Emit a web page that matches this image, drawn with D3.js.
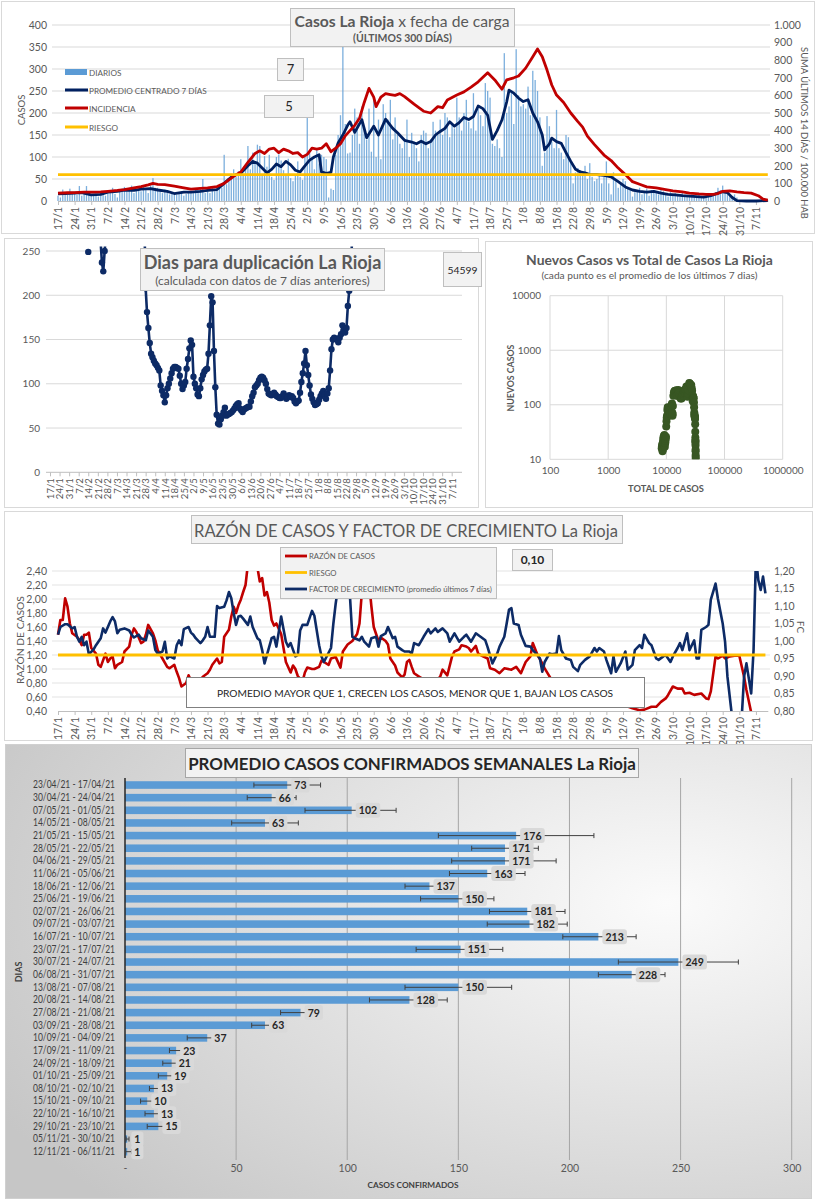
<!DOCTYPE html>
<html>
<head>
<meta charset="utf-8">
<script src="https://cdnjs.cloudflare.com/ajax/libs/d3/7.8.5/d3.min.js"></script>
<style>
  body { margin: 0; background: #fff; }
  svg { display: block; }
  svg text { font-family: Lato, "Open Sans", "DejaVu Sans", sans-serif; }
</style>
</head>
<body>
<svg id="chart" width="816" height="1200"></svg>
<script>
// ---------- datos ----------
var fechas = ["17/1","24/1","31/1","7/2","14/2","21/2","28/2","7/3","14/3","21/3","28/3","4/4","11/4","18/4","25/4","2/5","9/5","16/5","23/5","30/5","6/6","13/6","20/6","27/6","4/7","11/7","18/7","25/7","1/8","8/8","15/8","22/8","29/8","5/9","12/9","19/9","26/9","3/10","10/10","17/10","24/10","31/10","7/11"];

// casos diarios, 17/1 a 12/11 (una fila por semana)
var diarios = [
  12,8,26,18,14,28,16,
  20,14,34,12,18,34,15,
  12,16,14,10,18,15,12,
  24,20,30,16,8,22,28,
  32,22,26,35,18,24,28,
  22,32,26,18,35,52,30,
  30,22,18,26,24,15,20,
  18,14,20,22,12,16,22,
  22,18,26,20,28,50,18,
  24,18,30,22,28,34,30,
  105,38,48,62,72,55,68,
  95,62,80,125,72,110,88,
  128,125,58,102,78,105,55,
  48,100,106,92,70,58,96,
  52,45,60,90,55,48,100,
  190,110,95,72,120,85,105,
  100,95,8,28,25,105,150,
  195,350,175,108,110,150,210,
  190,130,215,160,140,210,112,
  230,100,185,95,220,200,185,
  230,140,190,150,130,120,140,
  185,100,155,135,120,90,150,
  160,155,120,140,180,160,150,
  185,150,200,190,145,175,165,
  235,190,160,200,230,180,165,
  245,160,210,195,170,268,250,
  235,130,125,140,120,100,336,
  200,215,250,175,345,240,215,
  220,210,260,195,296,275,250,
  190,80,110,193,170,135,120,
  207,120,110,95,150,145,90,
  40,65,75,70,60,80,50,
  86,55,45,50,60,40,55,
  90,40,15,65,45,30,40,
  50,45,30,25,10,20,25,
  30,15,20,28,12,25,20,
  18,15,25,22,18,10,20,
  12,18,15,10,22,14,12,
  10,15,12,8,14,10,12,
  10,15,12,18,20,30,25,
  35,20,25,15,10,15,8,
  2,1,0,1,2,1,0,
  1,0,1,2,1,1
];

// [dia, valor]
var promedio7 = [[0,16],[3,17],[7,18],[10,19],[14,14],[18,15],[21,20],[25,22],[28,25],[32,24],[35,27],[39,28],[42,25],[46,22],[49,17],[53,20],[56,20],[60,22],[63,24],[67,26],[70,40],[72,50],[74,58],[77,63],[80,80],[82,90],[84,86],[86,75],[88,64],[90,72],[92,84],[94,78],[96,90],[98,82],[100,70],[102,66],[104,80],[106,93],[108,100],[110,105],[111,66],[113,63],[115,65],[116,100],[118,132],[120,150],[122,172],[123,180],[125,156],[128,185],[130,144],[133,170],[135,150],[138,186],[141,165],[143,155],[146,138],[149,134],[151,130],[153,136],[155,130],[157,135],[159,150],[161,158],[163,165],[165,180],[167,170],[169,178],[171,190],[173,185],[175,192],[177,216],[179,210],[181,195],[183,140],[185,160],[187,184],[189,225],[190,252],[192,245],[194,234],[196,226],[198,230],[200,200],[202,180],[204,150],[205,116],[207,130],[208,143],[210,135],[212,131],[214,110],[216,90],[218,72],[220,66],[222,64],[224,60],[227,60],[230,58],[233,55],[236,44],[239,32],[242,25],[245,22],[248,20],[251,22],[254,18],[257,15],[260,14],[263,12],[266,11],[269,10],[272,9],[275,12],[278,18],[280,21],[282,19],[284,8],[286,1],[290,0],[294,0],[299,1]];

var incidencia = [[0,45],[4,47],[7,48],[11,50],[14,50],[18,52],[21,55],[25,60],[28,65],[32,75],[35,82],[38,92],[40,100],[42,95],[45,93],[49,85],[53,75],[56,68],[60,72],[63,75],[67,82],[70,100],[74,140],[77,165],[80,220],[83,270],[85,285],[87,270],[89,295],[91,300],[93,275],[95,295],[97,285],[99,270],[101,275],[103,250],[105,265],[107,300],[109,295],[111,300],[113,325],[115,280],[117,300],[119,325],[121,370],[123,400],[125,430],[127,470],[129,560],[131,640],[133,590],[134,536],[136,590],[138,610],[140,605],[142,600],[144,610],[146,593],[150,550],[154,510],[157,500],[160,536],[162,530],[164,574],[168,602],[171,620],[174,647],[177,677],[181,729],[184,688],[187,635],[189,688],[192,700],[194,710],[197,755],[200,820],[202,864],[204,820],[206,744],[208,659],[210,602],[213,560],[216,500],[219,451],[221,420],[223,369],[226,320],[230,261],[233,230],[236,187],[239,150],[242,110],[245,95],[248,80],[252,75],[256,65],[259,58],[263,52],[266,45],[270,40],[273,38],[276,38],[278,42],[280,55],[283,58],[286,52],[289,48],[292,45],[295,30],[297,10],[299,5]];

var riesgoCasos = 60;        // eje izquierdo
var riesgoIncidencia = 150;  // eje derecho

// dias para duplicacion [dia, valor] (null = sin dato)
var duplicacion = [[27,null],[28,249],[29,null],[36,null],[37,262],[38,237],[39,227],[40,250],[41,270],[42,null],
  [68,null],[69,290],[70,208],[71,181],[72,163],[73,146],[74,134],[75,130],[76,126],[77,123],[78,121],[79,118],[80,115],[81,98],[82,92],[83,87],[84,79],[85,87],[86,95],[87,100],[88,106],[89,112],[90,117],[91,119],[92,119],[93,118],[94,117],[95,109],[96,100],[97,94],[98,98],[99,102],[100,117],[101,128],[102,140],[103,149],[104,144],[105,108],[106,100],[107,95],[108,88],[109,86],[110,95],[111,105],[112,110],[113,114],[114,116],[115,117],[116,134],[117,166],[118,199],[119,192],[120,137],[121,96],[122,65],[123,55],[124,54],[125,60],[126,64],[127,68],[128,73],[129,64],[130,65],[131,66],[132,67],[133,68],[134,70],[135,72],[136,75],[137,77],[138,78],[139,72],[140,70],[141,68],[142,71],[143,72],[144,73],[145,74],[146,74],[147,80],[148,86],[149,90],[150,96],[151,98],[152,100],[153,104],[154,107],[155,108],[156,107],[157,104],[158,100],[159,94],[160,89],[161,88],[162,87],[163,88],[164,90],[165,88],[166,86],[167,85],[168,84],[169,84],[170,86],[171,89],[172,86],[173,83],[174,85],[175,87],[176,85],[177,86],[178,84],[179,80],[180,78],[181,80],[182,81],[183,90],[184,102],[185,112],[186,123],[187,137],[188,121],[189,110],[190,98],[191,88],[192,83],[193,79],[194,76],[195,77],[196,78],[197,82],[198,86],[199,89],[200,92],[201,88],[202,83],[203,89],[204,95],[205,115],[206,139],[207,150],[208,152],[209,151],[210,150],[211,147],[212,152],[213,156],[214,166],[215,160],[216,158],[217,163],[218,188],[219,205],[220,222],[221,260],[222,300]];
var ultimoDuplicacion = "54599";

// [total de casos, nuevos casos (promedio 7 dias)]
var nuevosVsTotal = [[8320,16],[8400,17],[8470,18],[8550,19],[8600,14],[8660,15],[8720,20],[8800,22],[8900,25],[9000,24],[9110,27],[9250,28],[9300,25],[9390,22],[9420,17],[9500,20],[9580,20],[9660,22],[9740,24],[9850,26],
  [9950,40],[10050,50],[10150,58],[10250,63],[10400,80],[10550,90],[10700,86],[10850,75],[10950,64],[11100,72],[11250,84],[11400,78],[11550,90],[11650,82],[11800,70],[11900,64],[12000,66],[12150,93],[12350,100],[12500,105],[12600,72],[12750,63],[12850,68],[12950,95],
  [13200,146],[13500,170],[13850,178],[14150,180],[14400,158],[14650,165],[14950,185],[15200,160],[15500,145],[15800,165],[16100,186],[16400,172],[16700,165],[17000,150],[17300,140],[17600,130],[17900,136],[18200,130],[18500,135],[18800,150],[19100,158],[19400,165],[19800,180],[20100,170],[20500,178],[20900,190],[21300,185],[21700,192],[22100,216],[22500,210],[22900,195],[23200,140],[23500,160],[23800,184],[24300,225],[24800,252],[25300,245],[25800,234],[26300,226],[26800,230],[27300,200],[27700,180],[28100,150],[28400,116],[28700,130],[28900,143],[29200,135],[29500,131],[29800,110],[30000,90],[30200,72],[30350,66],[30500,64],[30650,60],[30850,60],[31000,58],[31150,55],[31300,44],[31400,32],[31500,25],[31560,22],[31620,20],[31690,22],[31750,18],[31800,15],[31850,14],[31890,12],[31930,11],[31970,10]];

// razon de casos [dia, valor] (eje izq.) y factor de crecimiento [dia, valor] (eje der.)
var razon = [[0,1.49],[1,1.70],[2,1.70],[3,2.01],[4,1.89],[5,1.65],[6,1.51],[8,1.46],[9,1.41],[10,1.34],[11,1.49],[12,1.49],[13,1.52],[14,1.30],[16,1.22],[17,1.06],[18,1.03],[20,1.22],[21,1.10],[22,1.15],[23,1.18],[24,1.01],[25,1.06],[27,1.10],[28,1.25],[30,1.32],[31,1.49],[32,1.58],[33,1.53],[35,1.37],[36,1.39],[37,1.49],[38,1.63],[40,1.51],[41,1.41],[42,1.27],[44,1.15],[46,1.03],[47,1.01],[49,1.06],[50,0.96],[51,0.87],[52,0.75],[54,0.80],[55,0.91],[56,0.84],[58,0.80],[60,0.84],[61,0.89],[63,0.94],[64,0.99],[65,1.06],[67,1.15],[68,1.08],[69,1.10],[70,1.46],[72,1.56],[73,1.75],[74,1.89],[75,1.80],[76,1.91],[77,1.99],[78,2.10],[79,2.20],[80,2.50],[82,2.90],[84,2.45],[85,2.25],[86,2.30],[87,2.05],[88,2.10],[89,1.95],[90,1.70],[91,1.62],[92,1.65],[94,1.50],[95,1.30],[96,1.10],[98,0.95],[99,1.05],[100,1.00],[101,0.90],[103,0.82],[104,0.95],[105,1.02],[107,1.00],[108,1.00],[110,1.03],[111,1.12],[112,1.10],[114,1.06],[115,1.15],[117,1.17],[119,1.02],[120,1.25],[122,1.35],[124,1.40],[125,1.45],[126,1.50],[127,1.65],[128,2.10],[129,2.45],[130,2.70],[131,2.25],[132,1.90],[133,1.60],[135,1.40],[136,1.45],[138,1.40],[139,1.35],[140,1.15],[142,1.05],[143,0.95],[145,0.88],[146,0.92],[147,1.10],[148,1.13],[149,1.03],[150,0.94],[153,0.87],[156,0.84],[159,0.82],[161,0.89],[162,0.99],[164,0.91],[166,1.18],[167,1.25],[169,1.28],[170,1.34],[172,1.32],[173,1.30],[174,1.25],[176,1.33],[177,1.22],[179,1.18],[181,1.15],[182,1.01],[184,0.99],[186,0.94],[188,1.01],[191,0.99],[193,1.03],[195,0.94],[197,1.10],[199,1.18],[200,1.37],[202,1.20],[204,1.08],[205,1.01],[208,0.84],[211,0.75],[214,0.60],[216,0.51],[219,0.56],[221,0.55],[223,0.56],[226,0.52],[229,0.52],[233,0.50],[238,0.49],[242,0.44],[245,0.41],[247,0.42],[250,0.46],[252,0.46],[254,0.53],[256,0.58],[257,0.63],[259,0.75],[261,0.72],[263,0.72],[264,0.65],[266,0.66],[268,0.63],[271,0.65],[273,0.58],[274,0.57],[275,0.68],[277,1.18],[278,1.15],[280,1.19],[281,1.15],[283,1.18],[285,1.19],[287,1.19],[289,0.89],[290,0.70],[292,0.38],[294,0.20],[299,0.10]];

var factorCrecimiento = [[0,1.018],[1,1.040],[3,1.048],[4,1.048],[6,1.036],[7,1.040],[8,1.012],[9,0.998],[10,1.012],[11,0.988],[12,0.998],[13,0.962],[15,0.976],[16,0.988],[18,1.008],[19,1.036],[20,1.024],[22,1.056],[23,1.068],[24,1.056],[25,1.022],[26,1.032],[28,1.036],[30,1.030],[31,1.018],[32,1.010],[34,1.018],[35,1.008],[37,1.002],[38,1.030],[40,1.012],[41,0.974],[42,0.964],[44,0.970],[45,0.998],[46,0.950],[47,0.956],[49,0.950],[50,0.988],[51,1.002],[52,0.988],[53,1.034],[55,1.040],[56,1.024],[57,1.018],[58,1.008],[60,0.994],[61,1.002],[62,1.012],[63,1.040],[64,1.012],[66,1.012],[67,1.100],[68,1.094],[70,1.098],[71,1.116],[72,1.140],[73,1.122],[74,1.080],[75,1.046],[76,1.070],[77,1.072],[78,1.064],[80,1.046],[81,1.070],[82,1.040],[84,1.008],[85,1.002],[86,0.974],[87,0.936],[89,0.984],[90,1.008],[91,1.012],[92,0.984],[93,1.026],[94,1.070],[96,0.998],[97,0.984],[98,0.994],[100,0.956],[101,0.960],[102,1.030],[103,1.046],[105,1.046],[107,1.086],[108,1.072],[110,0.988],[111,0.956],[112,0.940],[115,0.980],[116,1.050],[117,1.108],[118,1.156],[119,1.240],[120,1.300],[121,1.260],[122,1.200],[123,1.126],[124,1.012],[125,1.008],[127,1.002],[128,1.012],[129,0.998],[131,0.984],[132,1.008],[134,1.012],[135,0.984],[136,1.014],[138,1.022],[139,1.040],[141,1.008],[142,1.012],[143,0.984],[145,0.974],[146,0.970],[148,0.970],[149,0.964],[150,0.994],[152,0.988],[154,1.012],[156,1.034],[157,1.022],[159,1.036],[160,1.026],[162,1.036],[164,1.022],[165,0.998],[167,1.022],[169,0.998],[171,1.012],[172,1.018],[174,0.998],[176,1.022],[178,1.012],[180,1.002],[181,0.982],[183,0.936],[185,0.964],[186,0.984],[188,1.012],[189,1.050],[190,1.090],[191,1.094],[192,1.050],[194,1.046],[195,1.018],[197,0.986],[199,0.984],[200,0.974],[202,0.960],[203,0.950],[204,0.912],[205,0.940],[207,0.964],[208,0.962],[210,0.964],[211,1.014],[212,0.974],[214,0.950],[216,0.946],[217,0.926],[219,0.914],[220,0.932],[222,0.946],[224,0.956],[226,0.980],[227,0.970],[228,0.980],[230,0.970],[231,0.946],[233,0.908],[234,0.956],[235,0.912],[237,0.936],[239,0.970],[240,0.918],[242,0.932],[243,0.974],[245,0.988],[246,0.980],[247,1.018],[249,0.994],[250,0.988],[252,0.950],[253,0.946],[255,0.956],[256,0.960],[258,0.940],[259,0.956],[261,0.980],[262,0.994],[263,0.974],[265,1.022],[266,0.974],[268,1.002],[269,0.950],[270,0.950],[271,1.032],[273,1.040],[274,1.046],[275,1.118],[277,1.164],[278,1.120],[280,1.050],[281,0.998],[282,0.898],[284,0.780],[286,0.760],[288,0.780],[289,0.898],[290,0.936],[292,0.850],[293,0.974],[294,1.240],[295,1.174],[296,1.146],[297,1.184],[298,1.136]];
var riesgoRazon = 1.2;
var ultimaRazon = "0,10";

// promedio semanal de casos confirmados con barras de error
var semanas = ["23/04/21 - 17/04/21","30/04/21 - 24/04/21","07/05/21 - 01/05/21","14/05/21 - 08/05/21","21/05/21 - 15/05/21","28/05/21 - 22/05/21","04/06/21 - 29/05/21","11/06/21 - 05/06/21","18/06/21 - 12/06/21","25/06/21 - 19/06/21","02/07/21 - 26/06/21","09/07/21 - 03/07/21","16/07/21 - 10/07/21","23/07/21 - 17/07/21","30/07/21 - 24/07/21","06/08/21 - 31/07/21","13/08/21 - 07/08/21","20/08/21 - 14/08/21","27/08/21 - 21/08/21","03/09/21 - 28/08/21","10/09/21 - 04/09/21","17/09/21 - 11/09/21","24/09/21 - 18/09/21","01/10/21 - 25/09/21","08/10/21 - 02/10/21","15/10/21 - 09/10/21","22/10/21 - 16/10/21","29/10/21 - 23/10/21","05/11/21 - 30/10/21","12/11/21 - 06/11/21"];
var promSemanal = [73,66,102,63,176,171,171,163,137,150,181,182,213,151,249,228,150,128,79,63,37,23,21,19,13,10,13,15,1,1];
var errBajo = [58,55,81,48,141,156,147,146,126,133,164,163,197,131,222,213,126,110,70,57,28,20,17,15,11,7,9,10,0.5,0.3];
var errAlto = [88,77,122,78,211,186,194,180,141,166,198,199,230,170,276,243,174,145,82,66,40,26,24,22,16,13,16,19,1.8,3];

// ---------- utilidades ----------
var svg = d3.select("#chart");
var GRIS = "#595959";
var AZUL = "#0d2b66", ROJO = "#c00000", ORO = "#ffc000";
var defs = svg.append("defs");

function clip(id, x, y, w, h) {
  defs.append("clipPath").attr("id", id).append("rect")
    .attr("x", x).attr("y", y).attr("width", w).attr("height", h);
}
function caja(g, x, y, w, h, fill, stroke) {
  return g.append("rect").attr("x", x).attr("y", y).attr("width", w).attr("height", h)
    .attr("fill", fill).attr("stroke", stroke || "none");
}
function ajustar(t, ancho) {
  var s = +t.attr("font-size");
  var len = t.node().getComputedTextLength();
  t.attr("font-size", s * ancho / len);
  return t;
}
// tamaño de letra para que un texto mida 'ancho' (se mide y se borra)
function tamPara(s, size, ancho, weight) {
  var t = svg.append("text").attr("font-size", size).attr("font-weight", weight || "normal").text(s);
  var len = t.node().getComputedTextLength();
  t.remove();
  return size * ancho / len;
}
function texto(g, x, y, s, size, o) {
  o = o || {};
  var t = g.append("text").attr("x", x).attr("y", y).attr("font-size", size)
    .attr("fill", o.color || GRIS).attr("font-weight", o.weight || "normal")
    .attr("text-anchor", o.anchor || "middle").text(s);
  if (o.ancho) ajustar(t, o.ancho);
  if (o.rot) t.attr("transform", "rotate(" + o.rot + "," + x + "," + y + ")");
  return t;
}
function estiloEje(a, size, color) {
  a.selectAll("text").attr("fill", color || GRIS).attr("font-size", size);
}
function ejeFechas(g, escala, y, size) {
  var a = g.append("g").attr("transform", "translate(0," + y + ")")
    .call(d3.axisBottom(escala)
      .tickValues(fechas.map(function (f, i) { return i * 7; }))
      .tickFormat(function (d, i) { return fechas[i]; })
      .tickSize(4).tickSizeOuter(0));
  a.select(".domain").attr("stroke", "#bfbfbf");
  a.selectAll(".tick line").attr("stroke", "#bfbfbf");
  a.selectAll("text").attr("transform", "rotate(-90)").attr("x", -6).attr("y", 0)
    .attr("dy", "0.35em").attr("text-anchor", "end").attr("fill", GRIS).attr("font-size", size);
  return a;
}
function coma(d) { return d.toFixed(2).replace(".", ","); }

// ---------- 1. casos x fecha de carga ----------
var g1 = svg.append("g");
caja(g1, 1.5, 1.5, 813, 232, "#fff", "#d9d9d9");
var x1 = d3.scaleLinear().domain([0, 299]).range([58, 767.8]);
var y1 = d3.scaleLinear().domain([0, 400]).range([201, 25]);
var y1r = d3.scaleLinear().domain([0, 1000]).range([201, 25]);

g1.append("g").selectAll("line").data(d3.range(50, 401, 50)).join("line")
  .attr("x1", 52).attr("x2", 770).attr("y1", function (d) { return y1(d); }).attr("y2", function (d) { return y1(d); })
  .attr("stroke", "#d9d9d9");

var aL1 = g1.append("g").attr("transform", "translate(52,0)")
  .call(d3.axisLeft(y1).tickValues(d3.range(0, 401, 50)).tickSize(0).tickPadding(5));
aL1.select(".domain").remove();
estiloEje(aL1, 10.5);
var aR1 = g1.append("g").attr("transform", "translate(770,0)")
  .call(d3.axisRight(y1r).tickValues(d3.range(0, 1001, 100)).tickSize(0).tickPadding(4)
    .tickFormat(function (d) { return d3.format(",")(d).replace(",", "."); }));
aR1.select(".domain").remove();
estiloEje(aR1, 10.5);

g1.append("g").selectAll("rect").data(diarios).join("rect")
  .attr("x", function (d, i) { return x1(i) - 0.65; }).attr("width", 1.3)
  .attr("y", function (d) { return y1(d); }).attr("height", function (d) { return y1(0) - y1(d); })
  .attr("fill", "#5b9bd5").attr("opacity", 0.8);

ejeFechas(g1, x1, 201, 10.5);

g1.append("path").datum(promedio7)
  .attr("d", d3.line().x(function (d) { return x1(d[0]); }).y(function (d) { return y1(d[1]); }))
  .attr("fill", "none").attr("stroke", "#002060").attr("stroke-width", 2.8).attr("stroke-linejoin", "round");
g1.append("path").datum(incidencia)
  .attr("d", d3.line().x(function (d) { return x1(d[0]); }).y(function (d) { return y1r(d[1]); }))
  .attr("fill", "none").attr("stroke", ROJO).attr("stroke-width", 2.8).attr("stroke-linejoin", "round");
g1.append("line").attr("x1", x1(0)).attr("x2", x1(299))
  .attr("y1", y1(riesgoCasos)).attr("y2", y1(riesgoCasos)).attr("stroke", ORO).attr("stroke-width", 2.8);

texto(g1, 25, 110, "CASOS", 9.5, { rot: -90 });
texto(g1, 801, 133, "SUMA  ÚLTIMOS 14 DÍAS / 100.000 HAB", 10.5, { rot: 90, ancho: 172 });

// leyenda
var ley1 = [["DIARIOS", "barra", "#5b9bd5", 72], ["PROMEDIO CENTRADO 7 DÍAS", "linea", "#002060", 90],
            ["INCIDENCIA", "linea", ROJO, 108], ["RIESGO", "linea", ORO, 127]];
var tamLey = tamPara(ley1[1][0], 10, 118);
ley1.forEach(function (l) {
  if (l[1] === "barra") caja(g1, 65, l[3] - 3, 22, 6, l[2]);
  else g1.append("line").attr("x1", 65).attr("x2", 88).attr("y1", l[3]).attr("y2", l[3])
    .attr("stroke", l[2]).attr("stroke-width", 3);
  texto(g1, 89, l[3] + 3.5, l[0], tamLey, { anchor: "start" });
});

caja(g1, 290.5, 8.5, 224, 38, "#f2f2f2", "#bfbfbf");
var tt1 = g1.append("text").attr("x", 402).attr("y", 27).attr("text-anchor", "middle")
  .attr("font-size", 18).attr("fill", GRIS);
tt1.append("tspan").attr("font-weight", "bold").text("Casos  La Rioja");
tt1.append("tspan").text(" x  fecha  de  carga");
ajustar(tt1, 215);
texto(g1, 402.5, 42, "(ÚLTIMOS 300 DÍAS)", 11, { ancho: 99, weight: "bold" });

caja(g1, 277.5, 58.5, 26, 22, "#f2f2f2", "#bfbfbf");
texto(g1, 290.5, 74, "7", 13, { color: "#262626" });
caja(g1, 264.5, 95.5, 49, 22, "#f2f2f2", "#bfbfbf");
texto(g1, 289, 111, "5", 13, { color: "#262626" });

// ---------- 2. dias para duplicacion ----------
var g2 = svg.append("g");
caja(g2, 4.5, 238.5, 474, 269, "#fff", "#d9d9d9");
var x2 = d3.scaleLinear().domain([0, 294]).range([50, 451.7]);
var y2 = d3.scaleLinear().domain([0, 250]).range([472.3, 251]);
g2.append("g").selectAll("line").data(d3.range(50, 251, 50)).join("line")
  .attr("x1", 46).attr("x2", 462).attr("y1", function (d) { return y2(d); }).attr("y2", function (d) { return y2(d); })
  .attr("stroke", "#d9d9d9");
var aL2 = g2.append("g").attr("transform", "translate(46,0)")
  .call(d3.axisLeft(y2).tickValues(d3.range(0, 251, 50)).tickSize(0).tickPadding(6));
aL2.select(".domain").remove();
estiloEje(aL2, 10);
var ax2 = ejeFechas(g2, x2, 472.3, 9.5);
ax2.select(".domain").attr("d", "M46,0H462");

clip("c2", 44, 246.5, 420, 230);
var cuerpo2 = g2.append("g").attr("clip-path", "url(#c2)");
cuerpo2.append("path").datum(duplicacion)
  .attr("d", d3.line().defined(function (d) { return d[1] !== null; })
    .x(function (d) { return x2(d[0]); }).y(function (d) { return y2(d[1]); }))
  .attr("fill", "none").attr("stroke", AZUL).attr("stroke-width", 2.6).attr("stroke-linejoin", "round");
cuerpo2.selectAll("circle").data(duplicacion.filter(function (d) { return d[1] !== null && d[1] <= 252; }))
  .join("circle").attr("cx", function (d) { return x2(d[0]); }).attr("cy", function (d) { return y2(d[1]); })
  .attr("r", 3.2).attr("fill", AZUL);

caja(g2, 140.5, 248.5, 244, 42, "#f2f2f2", "#bfbfbf");
texto(g2, 262.5, 268.5, "Dias para duplicación La Rioja", 17, { weight: "bold", ancho: 238 });
texto(g2, 262.5, 285, "(calculada con datos de 7 días anteriores)", 12, { ancho: 215 });
caja(g2, 443.5, 252.5, 38, 34, "#f2f2f2", "#bfbfbf");
texto(g2, 462.5, 274, ultimoDuplicacion, 11, { color: "#262626", ancho: 30 });

// ---------- 3. nuevos casos vs total ----------
var g3 = svg.append("g");
caja(g3, 485.5, 241.5, 327, 266, "#fff", "#d9d9d9");
var x3 = d3.scaleLog().domain([100, 1e6]).range([550, 782.7]);
var y3 = d3.scaleLog().domain([10, 1e4]).range([459.3, 295.7]);
var decX = [100, 1000, 10000, 100000, 1000000], decY = [10, 100, 1000, 10000];
g3.append("g").selectAll("line").data(decX).join("line")
  .attr("x1", function (d) { return x3(d); }).attr("x2", function (d) { return x3(d); })
  .attr("y1", y3(1e4)).attr("y2", y3(10)).attr("stroke", "#d9d9d9");
g3.append("g").selectAll("line").data(decY).join("line")
  .attr("x1", x3(100)).attr("x2", x3(1e6))
  .attr("y1", function (d) { return y3(d); }).attr("y2", function (d) { return y3(d); }).attr("stroke", "#d9d9d9");
var aX3 = g3.append("g").attr("transform", "translate(0," + y3(10) + ")")
  .call(d3.axisBottom(x3).tickValues(decX).tickFormat(d3.format("d")).tickSize(0).tickPadding(8));
aX3.select(".domain").remove();
estiloEje(aX3, 10);
var aY3 = g3.append("g").attr("transform", "translate(" + x3(100) + ",0)")
  .call(d3.axisLeft(y3).tickValues(decY).tickFormat(d3.format("d")).tickSize(0).tickPadding(9));
aY3.select(".domain").remove();
estiloEje(aY3, 10);

clip("c3", x3(100), y3(1e4), x3(1e6) - x3(100), y3(10) - y3(1e4));
g3.append("g").attr("clip-path", "url(#c3)").selectAll("circle").data(nuevosVsTotal).join("circle")
  .attr("cx", function (d) { return x3(d[0]); }).attr("cy", function (d) { return y3(d[1]); })
  .attr("r", 4).attr("fill", "#385723");

texto(g3, 649.5, 264.5, "Nuevos Casos vs Total de Casos La Rioja", 14, { weight: "bold", ancho: 247 });
texto(g3, 649.5, 279, "(cada punto es el promedio de los últimos 7 dias)", 11, { ancho: 216 });
texto(g3, 514, 378, "NUEVOS  CASOS", 11, { weight: "bold", rot: -90, ancho: 67 });
texto(g3, 666, 492, "TOTAL DE CASOS", 11, { weight: "bold", ancho: 76 });

// ---------- 4. razon de casos y factor de crecimiento ----------
var g4 = svg.append("g");
caja(g4, 4.5, 511.5, 808, 229, "#fff", "#d9d9d9");
var y4 = d3.scaleLinear().domain([0.4, 2.4]).range([711, 571]);
var y4r = d3.scaleLinear().domain([0.8, 1.2]).range([711, 571]);
g4.append("g").selectAll("line").data(d3.range(0.6, 2.41, 0.2)).join("line")
  .attr("x1", 52).attr("x2", 770).attr("y1", function (d) { return y4(d); }).attr("y2", function (d) { return y4(d); })
  .attr("stroke", "#e3e3e3");
var aL4 = g4.append("g").attr("transform", "translate(52,0)")
  .call(d3.axisLeft(y4).tickValues(d3.range(0.4, 2.41, 0.2)).tickSize(0).tickPadding(5).tickFormat(coma));
aL4.select(".domain").remove();
estiloEje(aL4, 10.5);
var aR4 = g4.append("g").attr("transform", "translate(770,0)")
  .call(d3.axisRight(y4r).tickValues(d3.range(0.8, 1.201, 0.05)).tickSize(0).tickPadding(4).tickFormat(coma));
aR4.select(".domain").remove();
estiloEje(aR4, 10.5);
ejeFechas(g4, x1, 711, 10.5);

clip("c4", 52, 571, 718, 140);
var cuerpo4 = g4.append("g").attr("clip-path", "url(#c4)");
cuerpo4.append("path").datum(razon)
  .attr("d", d3.line().x(function (d) { return x1(d[0]); }).y(function (d) { return y4(d[1]); }))
  .attr("fill", "none").attr("stroke", ROJO).attr("stroke-width", 2.6).attr("stroke-linejoin", "round");
cuerpo4.append("path").datum(factorCrecimiento)
  .attr("d", d3.line().x(function (d) { return x1(d[0]); }).y(function (d) { return y4r(d[1]); }))
  .attr("fill", "none").attr("stroke", AZUL).attr("stroke-width", 2.6).attr("stroke-linejoin", "round");
g4.append("line").attr("x1", x1(0)).attr("x2", x1(298))
  .attr("y1", y4(riesgoRazon)).attr("y2", y4(riesgoRazon)).attr("stroke", ORO).attr("stroke-width", 2.8);

texto(g4, 24, 640, "RAZÓN  DE CASOS", 10.5, { rot: -90, ancho: 88 });
texto(g4, 797, 627, "FC", 10, { rot: 90 });

caja(g4, 191.5, 515.5, 431, 28, "#f2f2f2", "#bfbfbf");
texto(g4, 406, 536.5, "RAZÓN DE CASOS Y FACTOR DE CRECIMIENTO La Rioja", 20, { ancho: 424 });

caja(g4, 280.5, 547.5, 216, 51, "#f2f2f2", "#bfbfbf");
var ley4 = [["RAZÓN DE CASOS", ROJO, 556], ["RIESGO", ORO, 572.5], ["FACTOR DE CRECIMIENTO (promedio últimos 7 días)", AZUL, 589]];
var tamLey4 = tamPara(ley4[2][0], 8, 183);
ley4.forEach(function (l) {
  g4.append("line").attr("x1", 285).attr("x2", 307).attr("y1", l[2]).attr("y2", l[2])
    .attr("stroke", l[1]).attr("stroke-width", 2.8);
  texto(g4, 309, l[2] + 3, l[0], tamLey4, { anchor: "start" });
});
caja(g4, 512.5, 549.5, 40, 21, "#f2f2f2", "#bfbfbf");
texto(g4, 532.5, 564, ultimaRazon, 12, { color: "#262626", weight: "bold" });

caja(g4, 186.5, 677.5, 458, 30, "#fff", "#808080");
texto(g4, 415, 697, "PROMEDIO MAYOR QUE 1, CRECEN LOS CASOS, MENOR QUE 1, BAJAN LOS CASOS", 12.5,
  { color: "#262626", ancho: 396 });

// ---------- 5. promedio casos confirmados semanales ----------
var g5 = svg.append("g");
var grad = defs.append("radialGradient").attr("id", "fondo5").attr("cx", "82%").attr("cy", "35%").attr("r", "95%");
grad.append("stop").attr("offset", "0%").attr("stop-color", "#fbfbfb");
grad.append("stop").attr("offset", "100%").attr("stop-color", "#c6c6c6");
caja(g5, 5.5, 744.5, 806, 454, "url(#fondo5)", "#d0d0d0");

var x5 = d3.scaleLinear().domain([0, 300]).range([125, 791.7]);
var y5 = d3.scaleBand().domain(semanas).range([778.7, 1158]).paddingInner(0.4).paddingOuter(0.2);

g5.append("g").selectAll("line").data(d3.range(50, 301, 50)).join("line")
  .attr("x1", function (d) { return x5(d); }).attr("x2", function (d) { return x5(d); })
  .attr("y1", 778).attr("y2", 1160).attr("stroke", "#a6a6a6");
var aX5 = g5.append("g").attr("transform", "translate(0,1160)")
  .call(d3.axisBottom(x5).tickValues(d3.range(0, 301, 50)).tickSize(0).tickPadding(5)
    .tickFormat(function (d) { return d === 0 ? "-" : d; }));
aX5.select(".domain").remove();
estiloEje(aX5, 10.5);
var aY5 = g5.append("g").attr("transform", "translate(125,0)")
  .call(d3.axisLeft(y5).tickSize(0).tickPadding(10));
aY5.select(".domain").remove();
estiloEje(aY5, 10.5, "#404040");
// letra estrecha como en el original: se comprime cada etiqueta a 82 px
aY5.selectAll("text").attr("textLength", 82).attr("lengthAdjust", "spacingAndGlyphs");

g5.append("g").selectAll("rect").data(promSemanal).join("rect")
  .attr("x", x5(0)).attr("y", function (d, i) { return y5(semanas[i]); })
  .attr("width", function (d) { return x5(d) - x5(0); }).attr("height", y5.bandwidth())
  .attr("fill", "#5b9bd5");
g5.append("line").attr("x1", 125).attr("x2", 125).attr("y1", 778).attr("y2", 1158)
  .attr("stroke", "#262626").attr("stroke-width", 1.5);

var err = g5.append("g").attr("stroke", "#404040").attr("stroke-width", 1);
promSemanal.forEach(function (v, i) {
  var yc = y5(semanas[i]) + y5.bandwidth() / 2;
  err.append("line").attr("x1", x5(errBajo[i])).attr("x2", x5(errAlto[i])).attr("y1", yc).attr("y2", yc);
  [errBajo[i], errAlto[i]].forEach(function (e) {
    err.append("line").attr("x1", x5(e)).attr("x2", x5(e)).attr("y1", yc - 2.5).attr("y2", yc + 2.5);
  });
});
var etq = g5.append("g");
promSemanal.forEach(function (v, i) {
  var yc = y5(semanas[i]) + y5.bandwidth() / 2;
  var w = 6 + 6.2 * String(v).length;
  etq.append("rect").attr("x", x5(v) + 4).attr("y", yc - 7.5).attr("width", w).attr("height", 15)
    .attr("rx", 3).attr("fill", "#d9d9d9");
  texto(etq, x5(v) + 4 + w / 2, yc + 4, v, 10.5, { color: "#262626", weight: "bold" });
});

caja(g5, 185.5, 748.5, 453, 29, "#f2f2f2", "#a6a6a6");
texto(g5, 412, 770, "PROMEDIO CASOS CONFIRMADOS SEMANALES La Rioja", 18, { color: "#262626", weight: "bold", ancho: 448 });
texto(g5, 413, 1188, "CASOS CONFIRMADOS", 9.5, { color: "#404040", weight: "bold", ancho: 91 });
texto(g5, 22, 972, "DIAS", 9, { color: "#404040", weight: "bold", rot: -90 });
</script>
</body>
</html>
